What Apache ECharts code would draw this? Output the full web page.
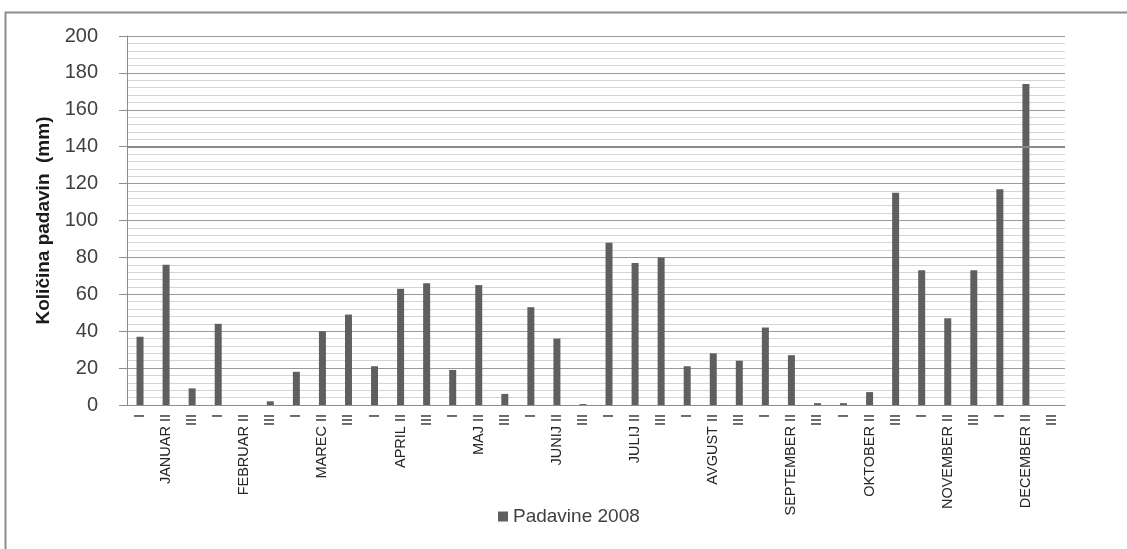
<!DOCTYPE html>
<html>
<head>
<meta charset="utf-8">
<script src="https://cdn.jsdelivr.net/npm/echarts@6/dist/echarts.min.js"></script>
<style>
html,body{margin:0;padding:0;background:#fff;}
#chart{width:1127px;height:549px;}
</style>
</head>
<body>
<div id="chart"></div>
<script>
const months = ['JANUAR','FEBRUAR','MAREC','APRIL','MAJ','JUNIJ','JULIJ','AVGUST','SEPTEMBER','OKTOBER','NOVEMBER','DECEMBER'];
const decades = ['I','II','III'];
const categories = [];
months.forEach(m => decades.forEach(d => categories.push(d === 'II' ? m + ' II' : d)));
const seriesName = 'Padavine 2008';
const values = [37,76,9, 44,0,2, 18,40,49, 21,63,66, 19,65,6, 53,36,0.5, 88,77,80, 21,28,24, 42,27,1, 1,7,115, 73,47,73, 117,174,0];
const yAxisName = 'Količina padavin  (mm)';
const yMin = 0, yMax = 200, yInterval = 20;

const chart = echarts.init(document.getElementById('chart'), null, {renderer:'canvas'});
chart.setOption({
  backgroundColor:'#fff',
  animation:false,
  textStyle:{fontFamily:'Liberation Sans'},
  graphic:[{
    type:'rect', silent:true,
    shape:{x:5.5,y:12.5,width:1200,height:600},
    style:{fill:'none',stroke:'#8c8c8c',lineWidth:2}
  }],
  grid:{left:127,right:62,top:36,bottom:144,containLabel:false},
  legend:{
    data:[seriesName], left:493, top:502,
    itemWidth:10,itemHeight:10,itemGap:6,icon:'rect',
    textStyle:{fontSize:19,color:'#404040',fontFamily:'Liberation Sans'}
  },
  xAxis:{
    type:'category', data:categories, boundaryGap:true,
    axisLine:{lineStyle:{color:'#8c8c8c',width:1}},
    axisTick:{show:false},
    axisLabel:{interval:0,rotate:90,fontSize:14.5,color:'#262626',margin:9,fontFamily:'Liberation Sans'},
    splitLine:{show:false}
  },
  yAxis:{
    type:'value', min:yMin, max:yMax, interval:yInterval,
    name:yAxisName, nameLocation:'middle', nameGap:71,
    nameTextStyle:{fontSize:19,fontWeight:'bold',color:'#1a1a1a',fontFamily:'Liberation Sans'},
    axisLine:{show:true,lineStyle:{color:'#8c8c8c',width:1}},
    axisTick:{show:true,length:8,lineStyle:{color:'#8c8c8c'}},
    axisLabel:{fontSize:20,color:'#404040',margin:29,fontFamily:'Liberation Sans'},
    splitLine:{show:true,lineStyle:{color:'#9a9a9a',width:1}},
    minorTick:{show:false,splitNumber:5},
    minorSplitLine:{show:true,lineStyle:{color:'#d4d4d4',width:1}}
  },
  series:[{
    name:seriesName, type:'bar', data:values, barWidth:7,
    itemStyle:{color:'#5f5f5f'},
    markLine:{
      silent:true, symbol:'none', label:{show:false},
      lineStyle:{color:'#8a8a8a',width:2,type:'solid'},
      data:[{yAxis:140}]
    }
  }]
});
</script>
</body>
</html>
